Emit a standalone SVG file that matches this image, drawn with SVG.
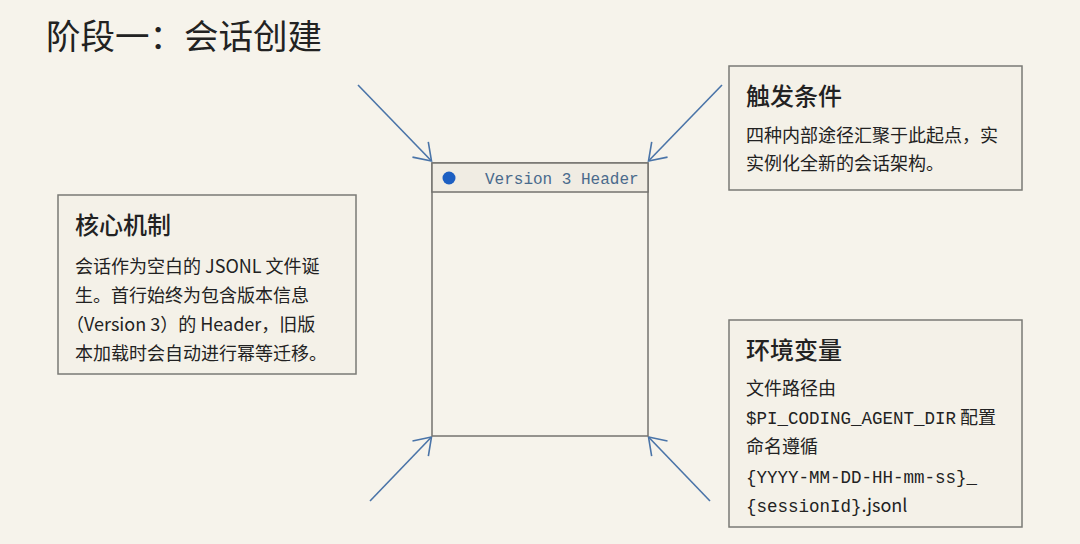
<svg xmlns="http://www.w3.org/2000/svg" width="1080" height="544" viewBox="0 0 1080 544">
<defs>
<style>
.bg{fill:#f6f3eb}
.card{fill:#f4f1e8;stroke:#7a7a76;stroke-width:1.5}
.cjk{font-family:"Noto Sans CJK SC","Noto Sans",sans-serif;fill:#222}
.ttl{font-size:24px;font-weight:500}
.body{font-size:18px;font-weight:400}
.mono{font-family:"Liberation Mono","DejaVu Sans Mono",monospace}
.arrow{stroke:#4a74a8;stroke-width:1.6;fill:none;marker-end:url(#head)}
</style>
<marker id="head" markerUnits="userSpaceOnUse" viewBox="-20 -14 22 28" markerWidth="22" markerHeight="28" refX="0" refY="0" orient="auto" overflow="visible">
<path d="M-16,-11 L0,0 L-16,11" fill="none" stroke="#4a74a8" stroke-width="1.6"/>
</marker>
</defs>
<rect class="bg" x="0" y="0" width="1080" height="544"/>
<text class="cjk" x="46" y="49" font-size="34.5" font-weight="400" fill="#1a1a1a">阶段一：会话创建</text>

<g id="connectors">
<line class="arrow" x1="358" y1="85" x2="431.5" y2="161"/>
<line class="arrow" x1="722" y1="85" x2="648.5" y2="161"/>
<line class="arrow" x1="370" y1="501" x2="431.5" y2="437"/>
<line class="arrow" x1="710" y1="501" x2="648.5" y2="437"/>
</g>

<g id="session-file">
<rect x="432" y="163" width="216" height="273" fill="#f6f3eb" stroke="#74736f" stroke-width="1.5"/>
<rect x="432" y="163" width="216" height="29" fill="#f0ece3" stroke="#74736f" stroke-width="1.5"/>
<circle cx="449" cy="178" r="6.5" fill="#1d5fc2"/>
<text class="mono" x="485" y="184" font-size="16" fill="#4a6a8c">Version 3 Header</text>
</g>

<g id="core-mechanism">
<rect class="card" x="58" y="195" width="298" height="179"/>
<text class="cjk ttl" x="75" y="234">核心机制</text>
<text class="cjk body" x="75" y="273">会话作为空白的 JSONL 文件诞</text>
<text class="cjk body" x="75" y="302">生。首行始终为包含版本信息</text>
<text class="cjk body" x="66" y="331">（Version 3）的 Header，旧版</text>
<text class="cjk body" x="75" y="360">本加载时会自动进行幂等迁移。</text>
</g>

<g id="trigger">
<rect class="card" x="729" y="66" width="293" height="124"/>
<text class="cjk ttl" x="746" y="105">触发条件</text>
<text class="cjk body" x="746" y="142">四种内部途径汇聚于此起点，实</text>
<text class="cjk body" x="746" y="170">实例化全新的会话架构。</text>
</g>

<g id="env-vars">
<rect class="card" x="729" y="320" width="293" height="207"/>
<text class="cjk ttl" x="746" y="359">环境变量</text>
<text class="cjk body" x="746" y="395">文件路径由</text>
<text class="cjk body" x="746" y="424"><tspan class="mono" font-size="17.5">$PI_CODING_AGENT_DIR</tspan> 配置</text>
<text class="cjk body" x="746" y="453">命名遵循</text>
<text class="cjk body" x="746" y="483"><tspan class="mono" font-size="17.5">{YYYY-MM-DD-HH-mm-ss}_</tspan></text>
<text class="cjk body" x="746" y="512"><tspan class="mono" font-size="17.5">{sessionId}</tspan>.jsonl</text>
</g>
</svg>
